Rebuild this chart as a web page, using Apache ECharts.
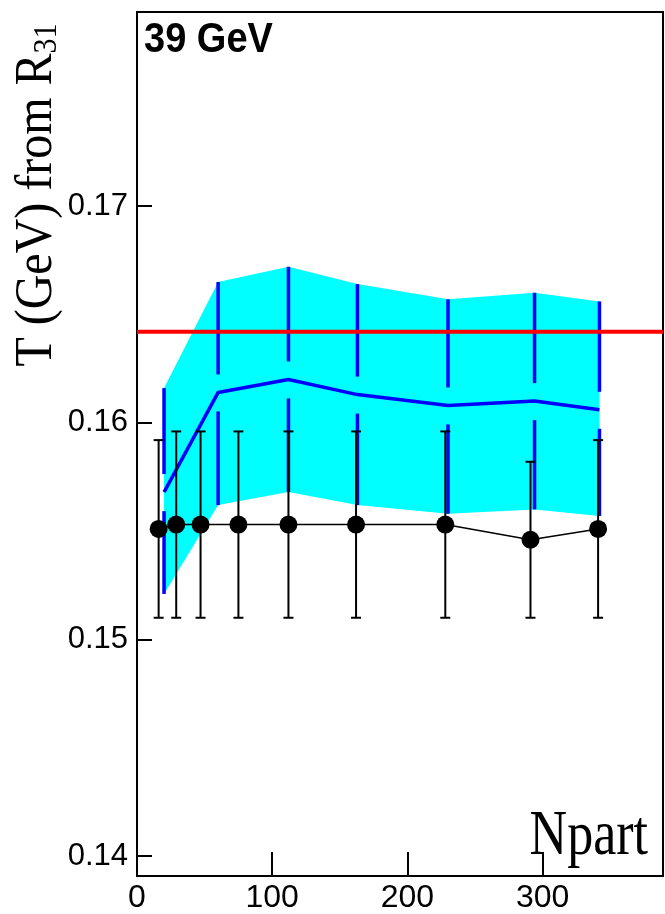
<!DOCTYPE html>
<html>
<head>
<meta charset="utf-8">
<script src="https://cdn.jsdelivr.net/npm/echarts@6/dist/echarts.min.js"></script>
<style>
  html, body { margin: 0; padding: 0; background: #fff; }
  #chart { width: 665px; height: 914px; }
</style>
</head>
<body>
<div id="chart"></div>
<script>
// data points (black): Npart, T and its error bar ends
var npart = [16, 29, 47, 75, 112, 162, 228, 291, 341];
var temp = [0.1551, 0.1553, 0.1553, 0.1553, 0.1553, 0.1553, 0.1553, 0.1546, 0.1551];
var tempHi = [0.1592, 0.1596, 0.1596, 0.1596, 0.1596, 0.1596, 0.1596, 0.1582, 0.1592];
var tempLo = [0.1510, 0.1510, 0.1510, 0.1510, 0.1510, 0.1510, 0.1510, 0.1510, 0.1510];

// model curve (blue) with its band (cyan)
var modelX = [20, 60, 112, 163, 230, 294, 342];
var modelT = [0.1568, 0.1614, 0.1620, 0.1613, 0.1608, 0.1610, 0.1606];
var bandHi = [0.1616, 0.1665, 0.1672, 0.1664, 0.1657, 0.1660, 0.1656];
var bandLo = [0.1521, 0.1562, 0.1568, 0.1562, 0.1558, 0.1560, 0.1557];

// horizontal reference (red)
var refT = 0.1642;

var xTicks = [100, 200, 300];
var xLabels = [0, 100, 200, 300];
var yTicks = [0.14, 0.15, 0.16, 0.17];

var chart = echarts.init(document.getElementById('chart'));

var option = {
  animation: false,
  grid: {
    left: 137, right: 2, top: 12, bottom: 35,
    show: true, borderColor: '#000', borderWidth: 2
  },
  xAxis: {
    type: 'value', min: 0, max: 389,
    axisLine: { show: false },
    splitLine: { show: false },
    axisTick: { inside: true, length: 24, customValues: xTicks, lineStyle: { color: '#000', width: 2 } },
    axisLabel: { customValues: xLabels, color: '#000', fontSize: 32, fontFamily: 'Liberation Sans', margin: 6 }
  },
  yAxis: {
    type: 'value', min: 0.13908, max: 0.17896,
    axisLine: { show: false },
    splitLine: { show: false },
    axisTick: { inside: true, length: 15, customValues: yTicks, lineStyle: { color: '#000', width: 2 } },
    axisLabel: {
      customValues: yTicks, color: '#000', fontSize: 31, fontFamily: 'Liberation Sans', margin: 9,
      formatter: function (v) { return v.toFixed(2); }
    }
  },
  graphic: [
    {
      type: 'text', x: 144, y: 40, scaleY: 1.1,
      style: { text: '39 GeV', fontSize: 38, fontWeight: 'bold', fontFamily: 'Liberation Sans', fill: '#000', verticalAlign: 'middle' }
    },
    {
      type: 'text', x: 648, y: 837, scaleY: 1.22,
      style: { text: 'Npart', fontSize: 52, fontFamily: 'Liberation Serif', fill: '#000', align: 'right', verticalAlign: 'middle' }
    },
    {
      type: 'text', x: 37, y: 195, rotation: Math.PI / 2, scaleY: 1.12,
      style: {
        text: '{a|T (GeV) from R}{s|31}',
        align: 'center', verticalAlign: 'middle',
        rich: {
          a: { fontSize: 48, fontFamily: 'Liberation Serif', fill: '#000' },
          s: { fontSize: 30, fontFamily: 'Liberation Serif', fill: '#000', verticalAlign: 'bottom' }
        }
      }
    }
  ],
  series: [
    {
      // cyan band
      type: 'custom', z: 1,
      data: modelX.map(function (x, i) { return [x, bandLo[i], bandHi[i]]; }),
      encode: { x: 0, y: [1, 2] },
      renderItem: function (params, api) {
        if (params.dataIndex !== 0) return;
        var pts = [];
        for (var i = 0; i < modelX.length; i++) pts.push(api.coord([modelX[i], bandHi[i]]));
        for (var j = modelX.length - 1; j >= 0; j--) pts.push(api.coord([modelX[j], bandLo[j]]));
        return { type: 'polygon', shape: { points: pts }, style: { fill: '#00ffff' } };
      }
    },
    {
      // blue error bars, broken around the curve
      type: 'custom', z: 2,
      data: modelX.map(function (x, i) { return [x, bandLo[i], bandHi[i], modelT[i]]; }),
      encode: { x: 0, y: [1, 2] },
      renderItem: function (params, api) {
        var top = api.coord([api.value(0), api.value(2)]);
        var bot = api.coord([api.value(0), api.value(1)]);
        var mid = api.coord([api.value(0), api.value(3)]);
        var st = { stroke: '#0000ff', lineWidth: 3.5 };
        return {
          type: 'group',
          children: [
            { type: 'line', shape: { x1: top[0], y1: top[1], x2: mid[0], y2: mid[1] - 18 }, style: st },
            { type: 'line', shape: { x1: mid[0], y1: mid[1] + 19, x2: bot[0], y2: bot[1] }, style: st }
          ]
        };
      }
    },
    {
      type: 'line', z: 3, symbol: 'none',
      data: modelX.map(function (x, i) { return [x, modelT[i]]; }),
      lineStyle: { color: '#0000ff', width: 3.5 }
    },
    {
      type: 'line', z: 4, symbol: 'none',
      data: [[0, refT], [389, refT]],
      lineStyle: { color: '#ff0000', width: 4 }
    },
    {
      // black error bars
      type: 'custom', z: 5,
      data: npart.map(function (x, i) { return [x, tempLo[i], tempHi[i]]; }),
      encode: { x: 0, y: [1, 2] },
      renderItem: function (params, api) {
        var hi = api.coord([api.value(0), api.value(2)]);
        var lo = api.coord([api.value(0), api.value(1)]);
        var st = { stroke: '#000', lineWidth: 2 };
        return {
          type: 'group',
          children: [
            { type: 'line', shape: { x1: hi[0], y1: hi[1], x2: lo[0], y2: lo[1] }, style: st },
            { type: 'line', shape: { x1: hi[0] - 5, y1: hi[1], x2: hi[0] + 5, y2: hi[1] }, style: st },
            { type: 'line', shape: { x1: lo[0] - 5, y1: lo[1], x2: lo[0] + 5, y2: lo[1] }, style: st }
          ]
        };
      }
    },
    {
      type: 'line', z: 6, symbol: 'circle', symbolSize: 18,
      data: npart.map(function (x, i) { return [x, temp[i]]; }),
      lineStyle: { color: '#000', width: 1.5 },
      itemStyle: { color: '#000' }
    }
  ]
};

chart.setOption(option);
</script>
</body>
</html>
